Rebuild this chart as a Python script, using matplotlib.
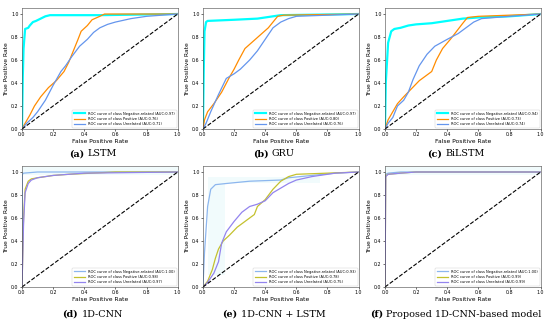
import matplotlib
matplotlib.use("Agg")
import matplotlib.pyplot as plt
from matplotlib.offsetbox import TextArea, HPacker, AnnotationBbox

# ROC curve points: (fpr, tpr) per class and model.
class_names = ["Negative-related", "Positive", "Unrelated"]

models = ["LSTM", "GRU", "BiLSTM", "1D-CNN", "1D-CNN + LSTM",
          "Proposed 1D-CNN-based model"]
panel_tags = ["(a)", "(b)", "(c)", "(d)", "(e)", "(f)"]

auc_lstm = [0.97, 0.76, 0.71]
auc_gru = [0.97, 0.80, 0.76]
auc_bilstm = [0.94, 0.73, 0.74]
auc_cnn = [1.00, 0.98, 0.97]
auc_cnn_lstm = [0.93, 0.78, 0.75]
auc_proposed = [1.00, 0.99, 0.99]

# (a) LSTM
lstm_neg_fpr = [0, 0.005, 0.01, 0.02, 0.04, 0.05, 0.07, 0.09, 0.12, 0.15, 0.18, 0.5, 1]
lstm_neg_tpr = [0, 0.45, 0.7, 0.87, 0.88, 0.9, 0.93, 0.94, 0.96, 0.98, 0.99, 0.99, 1]
lstm_pos_fpr = [0, 0.02, 0.05, 0.08, 0.12, 0.17, 0.22, 0.27, 0.3, 0.33, 0.36, 0.38,
                0.42, 0.45, 0.5, 0.53, 1]
lstm_pos_tpr = [0, 0.05, 0.12, 0.2, 0.28, 0.36, 0.42, 0.5, 0.58, 0.68, 0.78, 0.85,
                0.9, 0.95, 0.98, 1.0, 1]
lstm_unr_fpr = [0, 0.03, 0.07, 0.1, 0.15, 0.2, 0.25, 0.28, 0.32, 0.37, 0.42, 0.46,
                0.5, 0.55, 0.6, 0.7, 0.8, 0.9, 1]
lstm_unr_tpr = [0, 0.05, 0.1, 0.15, 0.25, 0.38, 0.5, 0.55, 0.63, 0.72, 0.78, 0.84,
                0.88, 0.91, 0.93, 0.96, 0.98, 0.99, 1]

# (b) GRU
gru_neg_fpr = [0, 0.005, 0.01, 0.02, 0.03, 0.2, 0.35, 0.45, 0.5, 1]
gru_neg_tpr = [0, 0.5, 0.85, 0.93, 0.94, 0.95, 0.96, 0.98, 0.99, 1]
gru_pos_fpr = [0, 0.01, 0.03, 0.07, 0.12, 0.17, 0.2, 0.23, 0.27, 0.32, 0.37, 0.42,
               0.45, 0.48, 0.52, 1]
gru_pos_tpr = [0, 0.08, 0.15, 0.22, 0.32, 0.45, 0.52, 0.6, 0.7, 0.76, 0.82, 0.88,
               0.93, 0.98, 0.99, 1]
gru_unr_fpr = [0, 0.02, 0.05, 0.1, 0.15, 0.2, 0.24, 0.3, 0.35, 0.4, 0.45, 0.5, 0.55,
               0.6, 0.8, 1]
gru_unr_tpr = [0, 0.05, 0.15, 0.3, 0.44, 0.48, 0.52, 0.6, 0.68, 0.78, 0.88, 0.93,
               0.96, 0.98, 0.99, 1]

# (c) BiLSTM
bilstm_neg_fpr = [0, 0.005, 0.02, 0.04, 0.06, 0.1, 0.15, 0.2, 0.3, 0.4, 0.5, 0.6,
                  0.8, 1]
bilstm_neg_tpr = [0, 0.4, 0.75, 0.85, 0.87, 0.88, 0.9, 0.91, 0.92, 0.94, 0.96, 0.97,
                  0.98, 1]
bilstm_pos_fpr = [0, 0.02, 0.05, 0.08, 0.12, 0.17, 0.22, 0.3, 0.33, 0.37, 0.42, 0.46,
                  0.5, 0.53, 0.6, 0.8, 1]
bilstm_pos_tpr = [0, 0.08, 0.15, 0.22, 0.28, 0.35, 0.42, 0.5, 0.6, 0.7, 0.78, 0.85,
                  0.92, 0.97, 0.98, 0.99, 1]
bilstm_unr_fpr = [0, 0.02, 0.05, 0.08, 0.12, 0.15, 0.18, 0.22, 0.27, 0.32, 0.4, 0.47,
                  0.52, 0.57, 0.62, 0.8, 1]
bilstm_unr_tpr = [0, 0.05, 0.1, 0.2, 0.25, 0.32, 0.43, 0.55, 0.65, 0.72, 0.78, 0.83,
                  0.88, 0.93, 0.96, 0.98, 1]

# (d) 1D-CNN
cnn_neg_fpr = [0, 0.002, 0.01, 0.1, 1]
cnn_neg_tpr = [0, 0.98, 0.99, 1.0, 1]
cnn_pos_fpr = [0, 0.01, 0.02, 0.04, 0.06, 0.1, 0.2, 0.3, 0.6, 1]
cnn_pos_tpr = [0, 0.6, 0.85, 0.92, 0.94, 0.95, 0.97, 0.98, 1.0, 1]
cnn_unr_fpr = [0, 0.01, 0.02, 0.04, 0.06, 0.1, 0.2, 0.4, 1]
cnn_unr_tpr = [0, 0.55, 0.82, 0.9, 0.93, 0.95, 0.97, 0.99, 1]

# (e) 1D-CNN + LSTM
cl_neg_fpr = [0, 0.01, 0.03, 0.05, 0.08, 0.15, 0.3, 0.5, 0.55, 0.7, 0.85, 1]
cl_neg_tpr = [0, 0.3, 0.7, 0.85, 0.89, 0.9, 0.92, 0.93, 0.95, 0.97, 0.99, 1]
cl_pos_fpr = [0, 0.03, 0.06, 0.08, 0.1, 0.13, 0.17, 0.22, 0.28, 0.33, 0.35, 0.4,
              0.45, 0.5, 0.55, 0.6, 0.8, 1]
cl_pos_tpr = [0, 0.05, 0.15, 0.25, 0.33, 0.4, 0.45, 0.52, 0.58, 0.63, 0.7, 0.76,
              0.85, 0.92, 0.96, 0.98, 0.99, 1]
cl_unr_fpr = [0, 0.03, 0.07, 0.1, 0.12, 0.15, 0.2, 0.25, 0.3, 0.35, 0.4, 0.45, 0.5,
              0.55, 0.6, 0.7, 0.85, 1]
cl_unr_tpr = [0, 0.04, 0.12, 0.22, 0.38, 0.48, 0.57, 0.65, 0.7, 0.72, 0.75, 0.82,
              0.86, 0.9, 0.93, 0.96, 0.99, 1]

# (f) proposed model
prop_neg_fpr = [0, 0.003, 0.02, 0.1, 1]
prop_neg_tpr = [0, 0.98, 0.99, 1.0, 1]
prop_pos_fpr = [0, 0.005, 0.02, 0.1, 0.2, 1]
prop_pos_tpr = [0, 0.97, 0.98, 0.99, 1.0, 1]
prop_unr_fpr = [0, 0.005, 0.02, 0.1, 0.2, 1]
prop_unr_tpr = [0, 0.96, 0.98, 0.99, 1.0, 1]

# faint shaded band seen behind the negative-related curve (bottom row)
cnn_band_x = [0, 1]
cnn_band_lo = [0.97, 0.97]
cnn_band_hi = [1.04, 1.04]
cl_band_x = [0.03, 0.14, 0.14, 0.75]
cl_band_lo = [0.1, 0.1, 0.9, 0.9]
cl_band_hi = [0.96, 0.96, 0.96, 0.96]
prop_band_x = [0, 1]
prop_band_lo = [0.97, 0.97]
prop_band_hi = [1.04, 1.04]

top_colors = ["aqua", "darkorange", "cornflowerblue"]
bottom_colors = ["#8cb6ee", "#c4c12e", "#9384ee"]


def curves():
    return [
        ([(lstm_neg_fpr, lstm_neg_tpr), (lstm_pos_fpr, lstm_pos_tpr),
          (lstm_unr_fpr, lstm_unr_tpr)], auc_lstm, None),
        ([(gru_neg_fpr, gru_neg_tpr), (gru_pos_fpr, gru_pos_tpr),
          (gru_unr_fpr, gru_unr_tpr)], auc_gru, None),
        ([(bilstm_neg_fpr, bilstm_neg_tpr), (bilstm_pos_fpr, bilstm_pos_tpr),
          (bilstm_unr_fpr, bilstm_unr_tpr)], auc_bilstm, None),
        ([(cnn_neg_fpr, cnn_neg_tpr), (cnn_pos_fpr, cnn_pos_tpr),
          (cnn_unr_fpr, cnn_unr_tpr)], auc_cnn,
         (cnn_band_x, cnn_band_lo, cnn_band_hi)),
        ([(cl_neg_fpr, cl_neg_tpr), (cl_pos_fpr, cl_pos_tpr),
          (cl_unr_fpr, cl_unr_tpr)], auc_cnn_lstm,
         (cl_band_x, cl_band_lo, cl_band_hi)),
        ([(prop_neg_fpr, prop_neg_tpr), (prop_pos_fpr, prop_pos_tpr),
          (prop_unr_fpr, prop_unr_tpr)], auc_proposed,
         (prop_band_x, prop_band_lo, prop_band_hi)),
    ]


# axes rectangles in figure fractions (left, bottom, width, height)
lefts = [0.040, 0.369, 0.700]
bottoms = [0.6006, 0.1115]
width = 0.2830
height = 0.3738


def draw_panel(ax, data, aucs, band, colors, thick_first):
    if band is not None:
        ax.fill_between(band[0], band[1], band[2], color="#d8f6f9",
                        alpha=0.35, linewidth=0, zorder=0)
    for i, ((fpr, tpr), auc, color) in enumerate(zip(data, aucs, colors)):
        lw = 1.6 if (i == 0 and thick_first) else 0.9
        ax.plot(fpr, tpr, color=color, lw=lw,
                label="ROC curve of class {} (AUC:{:.2f})".format(
                    class_names[i], auc))
    ax.plot([0, 1], [0, 1], "k--", lw=0.8)
    ax.set_xlim(0, 1)
    ax.set_ylim(0, 1.05)
    ax.set_xticks([0, 0.2, 0.4, 0.6, 0.8, 1.0])
    ax.set_yticks([0, 0.2, 0.4, 0.6, 0.8, 1.0])
    ax.tick_params(labelsize=3.4, length=1.5, width=0.4, pad=1)
    ax.set_xlabel("False Positive Rate", fontsize=4.3, labelpad=1)
    ax.set_ylabel("True Positive Rate", fontsize=4.3, labelpad=1)
    for sp in ax.spines.values():
        sp.set_linewidth(0.4)
        sp.set_color("#444444")
    leg = ax.legend(loc="lower right", fontsize=2.6, handlelength=3.2,
                    borderaxespad=0.3, framealpha=1, fancybox=True,
                    labelspacing=0.4)
    leg.get_frame().set_linewidth(0.3)


def add_caption(ax, tag, name, y):
    bold = TextArea(tag, textprops=dict(fontsize=6.9, fontweight="bold",
                                        family="DejaVu Serif"))
    rest = TextArea(name, textprops=dict(fontsize=6.9, family="DejaVu Serif"))
    box = HPacker(children=[bold, rest], align="baseline", pad=0, sep=2.5)
    ab = AnnotationBbox(box, (0.455, y), xycoords="axes fraction",
                        box_alignment=(0.5, 0.5), frameon=False)
    ax.add_artist(ab)


def gen_figure():
    fig = plt.figure(figsize=(5.5, 3.23), dpi=100)
    for k, (data, aucs, band) in enumerate(curves()):
        row, col = divmod(k, 3)
        ax = fig.add_axes([lefts[col], bottoms[row], width, height])
        colors = top_colors if row == 0 else bottom_colors
        draw_panel(ax, data, aucs, band, colors, row == 0)
        add_caption(ax, panel_tags[k], models[k], -0.207 if row == 0 else -0.224)
    fig.savefig("out.png", dpi=100)


if __name__ == "__main__":
    gen_figure()
